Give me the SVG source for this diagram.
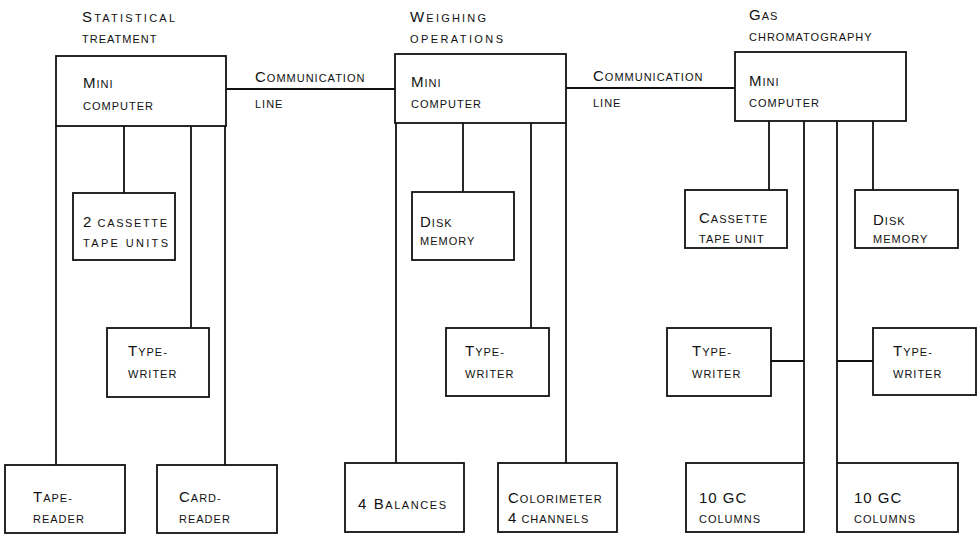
<svg xmlns="http://www.w3.org/2000/svg" width="979" height="537" viewBox="0 0 979 537">
<style>
.box{fill:#fff;stroke:#111;stroke-width:1.8}
.ln{stroke:#111;stroke-width:1.8;fill:none}
text{font-family:"Liberation Sans",Arial,sans-serif;font-size:11px;letter-spacing:1px;fill:#111}
.b{font-size:15px}
</style>
<rect width="979" height="537" fill="#fff"/>
<g id="connectors">
<line class="ln" x1="226" y1="89" x2="395" y2="89"/>
<line class="ln" x1="566" y1="88" x2="735" y2="88"/>
<line class="ln" x1="56" y1="126" x2="56" y2="465"/>
<line class="ln" x1="124" y1="126" x2="124" y2="193"/>
<line class="ln" x1="191" y1="126" x2="191" y2="328"/>
<line class="ln" x1="225" y1="126" x2="225" y2="465"/>
<line class="ln" x1="396" y1="123" x2="396" y2="463"/>
<line class="ln" x1="463" y1="123" x2="463" y2="192"/>
<line class="ln" x1="531" y1="123" x2="531" y2="328"/>
<line class="ln" x1="566" y1="123" x2="566" y2="463"/>
<line class="ln" x1="769" y1="121" x2="769" y2="190"/>
<line class="ln" x1="804" y1="121" x2="804" y2="463"/>
<line class="ln" x1="837" y1="121" x2="837" y2="463"/>
<line class="ln" x1="873" y1="121" x2="873" y2="190"/>
<line class="ln" x1="771" y1="361" x2="804" y2="361"/>
<line class="ln" x1="837" y1="361" x2="873" y2="361"/>
<text x="255" y="82"><tspan class="b">C</tspan>OMMUNICATION</text>
<text x="255" y="108">LINE</text>
<text x="593" y="81"><tspan class="b">C</tspan>OMMUNICATION</text>
<text x="593" y="107">LINE</text>
</g>
<g id="hdr-stat">
<text x="82" y="22" textLength="94" lengthAdjust="spacing"><tspan class="b">S</tspan>TATISTICAL</text>
<text x="82" y="43">TREATMENT</text>
</g>
<g id="hdr-weigh">
<text x="410" y="22" textLength="77" lengthAdjust="spacing"><tspan class="b">W</tspan>EIGHING</text>
<text x="410" y="43" textLength="94" lengthAdjust="spacing">OPERATIONS</text>
</g>
<g id="hdr-gas">
<text x="749" y="20"><tspan class="b">G</tspan>AS</text>
<text x="749" y="41">CHROMATOGRAPHY</text>
</g>
<g id="mini1">
<rect class="box" x="56" y="56" width="170" height="70"/>
<text x="83" y="88"><tspan class="b">M</tspan>INI</text>
<text x="83" y="110">COMPUTER</text>
</g>
<g id="mini2">
<rect class="box" x="395" y="54" width="171" height="69"/>
<text x="411" y="87"><tspan class="b">M</tspan>INI</text>
<text x="411" y="108">COMPUTER</text>
</g>
<g id="mini3">
<rect class="box" x="735" y="52" width="171" height="69"/>
<text x="749" y="86"><tspan class="b">M</tspan>INI</text>
<text x="749" y="107">COMPUTER</text>
</g>
<g id="cassette1">
<rect class="box" x="73" y="193" width="102" height="67"/>
<text x="83" y="227" textLength="85" lengthAdjust="spacing"><tspan class="b">2</tspan> CASSETTE</text>
<text x="83" y="247" textLength="86" lengthAdjust="spacing">TAPE UNITS</text>
</g>
<g id="typewriter1">
<rect class="box" x="107" y="328" width="102" height="69"/>
<text x="128" y="356"><tspan class="b">T</tspan>YPE-</text>
<text x="128" y="378">WRITER</text>
</g>
<g id="tapereader">
<rect class="box" x="5" y="465" width="120" height="68"/>
<text x="33" y="502"><tspan class="b">T</tspan>APE-</text>
<text x="33" y="523">READER</text>
</g>
<g id="cardreader">
<rect class="box" x="157" y="465" width="120" height="68"/>
<text x="179" y="502"><tspan class="b">C</tspan>ARD-</text>
<text x="179" y="523">READER</text>
</g>
<g id="disk2">
<rect class="box" x="412" y="192" width="102" height="68"/>
<text x="420" y="227"><tspan class="b">D</tspan>ISK</text>
<text x="420" y="245">MEMORY</text>
</g>
<g id="typewriter2">
<rect class="box" x="446" y="328" width="103" height="68"/>
<text x="465" y="356"><tspan class="b">T</tspan>YPE-</text>
<text x="465" y="378">WRITER</text>
</g>
<g id="balances">
<rect class="box" x="345" y="463" width="119" height="69"/>
<text x="358" y="509" textLength="89" lengthAdjust="spacing"><tspan class="b">4 B</tspan>ALANCES</text>
</g>
<g id="colorimeter">
<rect class="box" x="498" y="463" width="119" height="69"/>
<text x="508" y="503"><tspan class="b">C</tspan>OLORIMETER</text>
<text x="508" y="523"><tspan class="b">4</tspan> CHANNELS</text>
</g>
<g id="cassette3">
<rect class="box" x="685" y="190" width="102" height="58"/>
<text x="699" y="223"><tspan class="b">C</tspan>ASSETTE</text>
<text x="699" y="243">TAPE UNIT</text>
</g>
<g id="disk3">
<rect class="box" x="855" y="190" width="103" height="58"/>
<text x="873" y="225"><tspan class="b">D</tspan>ISK</text>
<text x="873" y="243">MEMORY</text>
</g>
<g id="typewriter3a">
<rect class="box" x="667" y="328" width="104" height="68"/>
<text x="692" y="356"><tspan class="b">T</tspan>YPE-</text>
<text x="692" y="378">WRITER</text>
</g>
<g id="typewriter3b">
<rect class="box" x="873" y="328" width="103" height="67"/>
<text x="893" y="356"><tspan class="b">T</tspan>YPE-</text>
<text x="893" y="378">WRITER</text>
</g>
<g id="gc1">
<rect class="box" x="686" y="463" width="118" height="69"/>
<text x="699" y="503"><tspan class="b">10 GC</tspan></text>
<text x="699" y="523">COLUMNS</text>
</g>
<g id="gc2">
<rect class="box" x="837" y="463" width="121" height="69"/>
<text x="854" y="503"><tspan class="b">10 GC</tspan></text>
<text x="854" y="523">COLUMNS</text>
</g>
</svg>
